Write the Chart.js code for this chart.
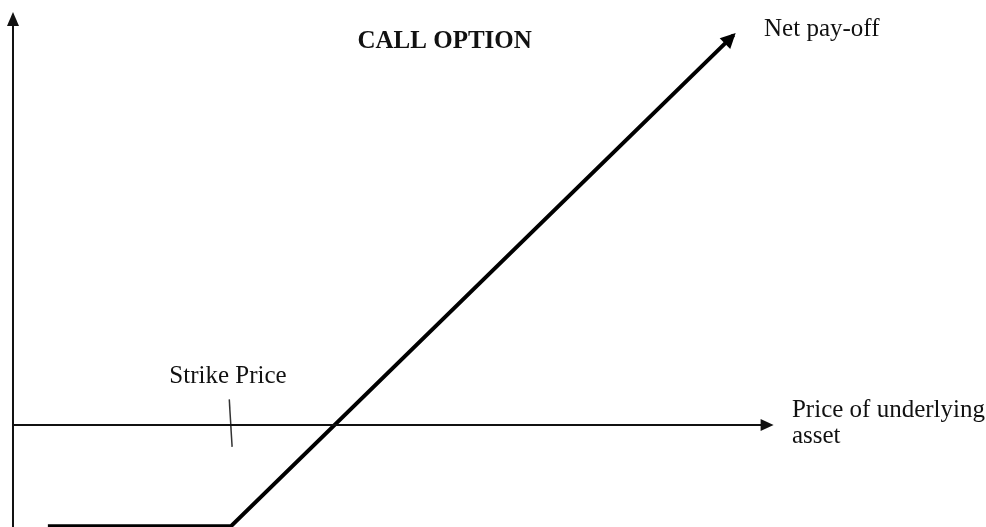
<!DOCTYPE html>
<html>
<head>
<meta charset="utf-8">
<title>Call option</title>
<script src="https://cdn.jsdelivr.net/npm/chart.js@4"></script>
<style>
  body { margin: 0; background: #fff; }
  #wrap { width: 986px; height: 527px; }
</style>
</head>
<body>
<div id="wrap"><canvas id="myChart" width="986" height="527"></canvas></div>
<script>
'use strict';
// price of the underlying at each corner of the net pay-off line
let priceAt = [16, 100, 330.5];
// net pay-off at those prices (premium paid is 47.5)
let payoffAt = [-47.5, -47.5, 183];
// little tick on the price axis at the strike
let strikeTickX = [99.2, 100.5];
let strikeTickY = [12, -10.3];
// where the two axis lines stop
let xAxisEnd = 347.5;
let yAxisTop = 192.5;
let yAxisBottom = -48;

let labels = [
  { text: 'CALL OPTION', x: 198, y: 177, bold: true, align: 'center' },
  { text: 'Net pay-off', x: 344.5, y: 182.6 },
  { text: 'Strike Price', x: 98.6, y: 19.7, align: 'center' },
  { text: 'Price of underlying', x: 357.3, y: 3.8 },
  { text: 'asset', x: 357.3, y: -8.5 }
];

function pts(xs, ys) {
  let out = [];
  for (let i = 0; i < xs.length; i++) {
    out.push({ x: xs[i], y: ys[i] });
  }
  return out;
}

// filled triangle on the end of any dataset that has an "arrow" setting
let arrowHeads = {
  id: 'arrowHeads',
  afterDatasetsDraw(chart) {
    let ctx = chart.ctx;
    chart.data.datasets.forEach(function (ds, i) {
      if (!ds.arrow) return;
      let els = chart.getDatasetMeta(i).data;
      let a = els[els.length - 2];
      let b = els[els.length - 1];
      let ang = Math.atan2(b.y - a.y, b.x - a.x);
      let tx = b.x + Math.cos(ang) * ds.arrow.ahead;
      let ty = b.y + Math.sin(ang) * ds.arrow.ahead;
      ctx.save();
      ctx.translate(tx, ty);
      ctx.rotate(ang);
      ctx.fillStyle = ds.borderColor;
      ctx.beginPath();
      ctx.moveTo(0, 0);
      ctx.lineTo(-ds.arrow.len, -ds.arrow.width / 2);
      ctx.lineTo(-ds.arrow.len, ds.arrow.width / 2);
      ctx.closePath();
      ctx.fill();
      ctx.restore();
    });
  }
};

let textLabels = {
  id: 'textLabels',
  afterDraw(chart) {
    let ctx = chart.ctx;
    let xs = chart.scales.x;
    let ys = chart.scales.y;
    ctx.save();
    ctx.fillStyle = '#111';
    ctx.textBaseline = 'alphabetic';
    labels.forEach(function (l) {
      ctx.font = (l.bold ? 'bold ' : '') + '25px "Liberation Serif", "Times New Roman", serif';
      ctx.textAlign = l.align || 'left';
      ctx.fillText(l.text, xs.getPixelForValue(l.x), ys.getPixelForValue(l.y));
    });
    ctx.restore();
  }
};

let ctx = document.getElementById('myChart').getContext('2d');
let myChart = new Chart(ctx, {
  type: 'scatter',
  data: {
    datasets: [
      {
        label: 'price axis',
        data: pts([0, xAxisEnd], [0, 0]),
        borderColor: '#111',
        borderWidth: 2,
        arrow: { len: 13, width: 12, ahead: 3 }
      },
      {
        label: 'pay-off axis',
        data: pts([0, 0], [yAxisBottom, yAxisTop]),
        borderColor: '#111',
        borderWidth: 2,
        arrow: { len: 14, width: 12, ahead: 3 }
      },
      {
        label: 'strike',
        data: pts(strikeTickX, strikeTickY),
        borderColor: '#333',
        borderWidth: 1.5
      },
      {
        label: 'Net pay-off',
        data: pts(priceAt, payoffAt),
        borderColor: '#000',
        borderWidth: 4,
        borderJoinStyle: 'miter',
        arrow: { len: 15, width: 15, ahead: 3 }
      }
    ]
  },
  options: {
    responsive: false,
    animation: false,
    showLine: true,
    clip: false,
    layout: { padding: 0 },
    elements: { point: { radius: 0, hoverRadius: 0 }, line: { tension: 0 } },
    plugins: { legend: { display: false }, tooltip: { enabled: false } },
    scales: {
      x: { type: 'linear', min: -5.96, max: 446.3, display: false },
      y: { type: 'linear', min: -47.9, max: 199.5, display: false }
    }
  },
  plugins: [arrowHeads, textLabels]
});
</script>
</body>
</html>
